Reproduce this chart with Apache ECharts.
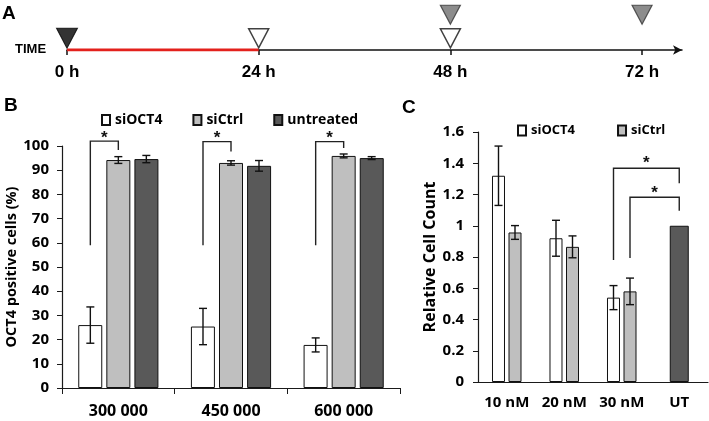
<!DOCTYPE html>
<html>
<head>
<meta charset="utf-8">
<script src="https://cdn.jsdelivr.net/npm/echarts@6/dist/echarts.min.js"></script>
<style>
  html, body { margin: 0; padding: 0; background: #fff; }
  #chart { width: 709px; height: 421px; }
</style>
</head>
<body>
<div id="chart"></div>
<script>
// Panel A: timeline
const hours = [0, 24, 48, 72];
const hourLabels = ['0 h', '24 h', '48 h', '72 h'];
const redSpan = [0, 24];
const blackMarks = [[0, 1]];
const whiteMarks = [[24, 1], [48, 1]];
const grayMarks = [[48, 2], [72, 2]];

// Panel B: OCT4 positive cells (%)
const cellsB = ['300 000', '450 000', '600 000'];
const siOCT4B = [26.0, 25.4, 17.8];
const siOCT4BErr = [7.5, 7.5, 2.9];
const siCtrlB = [94.2, 93.0, 95.9];
const siCtrlBErr = [1.4, 0.9, 0.8];
const untreatedB = [94.6, 91.8, 95.0];
const untreatedBErr = [1.5, 2.2, 0.6];
// significance brackets: category, slots, bracket top, left foot, right foot, star
const sigB = [
  { c1: 0, s1: 0, c2: 0, s2: 1, top: 102, left: 59, right: 98.3, star: 104.6 },
  { c1: 1, s1: 0, c2: 1, s2: 1, top: 101.8, left: 59, right: 97.7, star: 104.6 },
  { c1: 2, s1: 0, c2: 2, s2: 1, top: 101.8, left: 59, right: 99.2, star: 104.6 }
];

// Panel C: relative cell count
const doseC = ['10 nM', '20 nM', '30 nM', 'UT'];
const siOCT4C = [1.32, 0.92, 0.54, '-'];
const siOCT4CErr = [0.19, 0.115, 0.077, 0];
const siCtrlC = [0.957, 0.865, 0.58, '-'];
const siCtrlCErr = [0.044, 0.07, 0.085, 0];
const untreatedC = ['-', '-', '-', 1.0];
const sigC = [
  { c1: 2, s1: 0, c2: 3, s2: 2, top: 1.368, left: 0.781, right: 1.272, star: 1.42 },
  { c1: 2, s1: 1, c2: 3, s2: 2, top: 1.182, left: 0.794, right: 1.096, star: 1.229 }
];

const FONT = 'Open Sans';
const ARIAL = 'Liberation Sans';
const AXIS = '#1a1a1a';
const WHITE = '#ffffff', LIGHT = '#bfbfbf', DARK = '#595959';

const chart = echarts.init(document.getElementById('chart'));

// bar slot offsets (px) inside a category
const slotB = s => (s - 1) * 28;
const slotC = s => (s === 2 ? 0 : (s - 0.5) * 16.5);

function errorBars(xIdx, yIdx, means, errs, dx, cap) {
  const pts = [];
  means.forEach((m, i) => { if (m !== '-' && errs[i] > 0) pts.push([i, m, errs[i]]); });
  return {
    type: 'custom', xAxisIndex: xIdx, yAxisIndex: yIdx, z: 10, silent: true, clip: false,
    encode: { x: 0, y: 1 },
    data: pts,
    renderItem: (params, api) => {
      const hi = api.coord([api.value(0), api.value(1) + api.value(2)]);
      const lo = api.coord([api.value(0), api.value(1) - api.value(2)]);
      const x = hi[0] + dx;
      const st = { stroke: '#111', lineWidth: 1.4 };
      return {
        type: 'group',
        children: [
          { type: 'line', shape: { x1: x, y1: hi[1], x2: x, y2: lo[1] }, style: st },
          { type: 'line', shape: { x1: x - cap, y1: hi[1], x2: x + cap, y2: hi[1] }, style: st },
          { type: 'line', shape: { x1: x - cap, y1: lo[1], x2: x + cap, y2: lo[1] }, style: st }
        ]
      };
    }
  };
}

function brackets(xIdx, yIdx, list, slot) {
  return {
    type: 'custom', xAxisIndex: xIdx, yAxisIndex: yIdx, z: 10, silent: true, clip: false,
    encode: { x: 0, y: 1 },
    data: list.map(b => [b.c1, b.top]),
    renderItem: (params, api) => {
      const b = list[params.dataIndex];
      const xl = api.coord([b.c1, b.top])[0] + slot(b.s1);
      const xr = api.coord([b.c2, b.top])[0] + slot(b.s2);
      const yt = api.coord([b.c1, b.top])[1];
      const yl = api.coord([b.c1, b.left])[1];
      const yr = api.coord([b.c2, b.right])[1];
      const ys = api.coord([b.c1, b.star])[1];
      return {
        type: 'group',
        children: [
          { type: 'polyline', shape: { points: [[xl, yl], [xl, yt], [xr, yt], [xr, yr]] },
            style: { stroke: '#222', lineWidth: 1.4, fill: null } },
          { type: 'text', x: (xl + xr) / 2, y: ys + 3,
            style: { text: '*', font: 'bold 17px ' + ARIAL, fill: '#111',
                     align: 'center', verticalAlign: 'middle',
                     textAlign: 'center', textVerticalAlign: 'middle' } }
        ]
      };
    }
  };
}

const tickLabel = size => ({ color: '#000', fontFamily: FONT, fontWeight: 'bold', fontSize: size });

function barSeries(name, xIdx, yIdx, data, color, width, gap) {
  return {
    name, type: 'bar', xAxisIndex: xIdx, yAxisIndex: yIdx, data,
    barWidth: width, barGap: gap,
    itemStyle: { color, borderColor: '#111', borderWidth: 1 }
  };
}

const option = {
  animation: false,
  backgroundColor: '#fff',
  graphic: [
    { type: 'text', left: 2, top: 4, style: { text: 'A', font: 'bold 19px ' + ARIAL, fill: '#000' } },
    { type: 'text', left: 4, top: 96, style: { text: 'B', font: 'bold 19px ' + ARIAL, fill: '#000' } },
    { type: 'text', left: 402, top: 98, style: { text: 'C', font: 'bold 19px ' + ARIAL, fill: '#000' } },
    { type: 'text', left: 15, top: 43, style: { text: 'TIME', font: 'bold 13px ' + ARIAL, fill: '#000' } }
  ],
  legend: [
    {
      data: ['siOCT4', 'siCtrl', 'untreated'],
      left: 96, top: 108, icon: 'rect', itemWidth: 8, itemHeight: 10, itemGap: 30,
      selectedMode: false,
      textStyle: { color: '#000', fontFamily: FONT, fontWeight: 'bold', fontSize: 14 }
    },
    {
      data: ['siOCT4', 'siCtrl'],
      left: 512, top: 119, icon: 'rect', itemWidth: 8, itemHeight: 10, itemGap: 42,
      selectedMode: false,
      textStyle: { color: '#000', fontFamily: FONT, fontWeight: 'bold', fontSize: 13 }
    }
  ],
  grid: [
    { left: 67, top: 3, width: 615, height: 47 },
    { left: 62, top: 146, width: 338, height: 242 },
    { left: 478, top: 132, width: 230, height: 250 }
  ],
  xAxis: [
    {
      gridIndex: 0, type: 'value', min: 0, max: 77,
      axisLine: { show: true, lineStyle: { color: '#111', width: 1.5 }, symbol: ['none', 'arrow'], symbolSize: [7, 9] },
      axisTick: { show: true, length: 5, customValues: hours, lineStyle: { color: '#111', width: 1.5 } },
      axisLabel: { customValues: hours, formatter: v => hourLabels[hours.indexOf(v)], margin: 14,
                   color: '#000', fontFamily: ARIAL, fontWeight: 'bold', fontSize: 17 },
      splitLine: { show: false }
    },
    {
      gridIndex: 1, type: 'category', data: cellsB,
      axisLine: { lineStyle: { color: AXIS, width: 1.2 } },
      axisTick: { show: true, length: 6, interval: 0, lineStyle: { color: AXIS } },
      axisLabel: Object.assign({ margin: 15, interval: 0 }, tickLabel(16))
    },
    {
      gridIndex: 2, type: 'category', data: doseC,
      axisLine: { lineStyle: { color: AXIS, width: 1.2 } },
      axisTick: { show: false },
      axisLabel: Object.assign({ margin: 13, interval: 0, hideOverlap: false }, tickLabel(15))
    },
    {
      gridIndex: 2, type: 'category', data: doseC, show: false
    }
  ],
  yAxis: [
    { gridIndex: 0, type: 'value', min: 0.5, max: 2.5, show: false },
    {
      gridIndex: 1, type: 'value', min: 0, max: 100, interval: 10,
      name: 'OCT4 positive cells (%)', nameLocation: 'middle', nameGap: 40,
      nameTextStyle: { color: '#000', fontFamily: FONT, fontWeight: 'bold', fontSize: 14.5 },
      axisLine: { show: true, lineStyle: { color: AXIS, width: 1.2 } },
      axisTick: { show: true, length: 5, lineStyle: { color: AXIS } },
      axisLabel: Object.assign({ margin: 13 }, tickLabel(15)),
      splitLine: { show: false }
    },
    {
      gridIndex: 2, type: 'value', min: 0, max: 1.6, interval: 0.2,
      name: 'Relative Cell Count', nameLocation: 'middle', nameGap: 38,
      nameTextStyle: { color: '#000', fontFamily: FONT, fontWeight: 'bold', fontSize: 16 },
      axisLine: { show: true, lineStyle: { color: AXIS, width: 1.2 } },
      axisTick: { show: true, length: 5, lineStyle: { color: AXIS } },
      axisLabel: Object.assign({ margin: 14 }, tickLabel(15)),
      splitLine: { show: false }
    }
  ],
  series: [
    // A
    {
      type: 'line', xAxisIndex: 0, yAxisIndex: 0, z: 4, silent: true, symbol: 'none',
      data: redSpan.map(h => [h, 0.5]),
      lineStyle: { color: '#e3211c', width: 3 }
    },
    {
      type: 'scatter', xAxisIndex: 0, yAxisIndex: 0, z: 5, silent: true,
      symbol: 'triangle', symbolRotate: 180, symbolSize: [21, 20], data: blackMarks,
      itemStyle: { color: '#000', borderColor: '#000', borderWidth: 1 }
    },
    {
      type: 'scatter', xAxisIndex: 0, yAxisIndex: 0, z: 5, silent: true,
      symbol: 'triangle', symbolRotate: 180, symbolSize: [20, 19], data: whiteMarks,
      itemStyle: { color: '#fff', borderColor: '#111', borderWidth: 1.5 }
    },
    {
      type: 'scatter', xAxisIndex: 0, yAxisIndex: 0, z: 5, silent: true,
      symbol: 'triangle', symbolRotate: 180, symbolSize: [20, 19], data: grayMarks,
      itemStyle: { color: '#6f6f6f', borderColor: '#333', borderWidth: 1.2 }
    },
    // B
    barSeries('siOCT4', 1, 1, siOCT4B, WHITE, 24, '17%'),
    barSeries('siCtrl', 1, 1, siCtrlB, LIGHT, 24, '17%'),
    barSeries('untreated', 1, 1, untreatedB, DARK, 24, '17%'),
    errorBars(1, 1, siOCT4B, siOCT4BErr, slotB(0), 4),
    errorBars(1, 1, siCtrlB, siCtrlBErr, slotB(1), 4),
    errorBars(1, 1, untreatedB, untreatedBErr, slotB(2), 4),
    brackets(1, 1, sigB, slotB),
    // C
    barSeries('siOCT4', 2, 2, siOCT4C, WHITE, 13, '27%'),
    barSeries('siCtrl', 2, 2, siCtrlC, LIGHT, 13, '27%'),
    barSeries('UT', 3, 2, untreatedC, DARK, 19, '27%'),
    errorBars(2, 2, siOCT4C, siOCT4CErr, slotC(0), 4),
    errorBars(2, 2, siCtrlC, siCtrlCErr, slotC(1), 4),
    brackets(2, 2, sigC, slotC)
  ]
};

chart.setOption(option);
</script>
</body>
</html>
